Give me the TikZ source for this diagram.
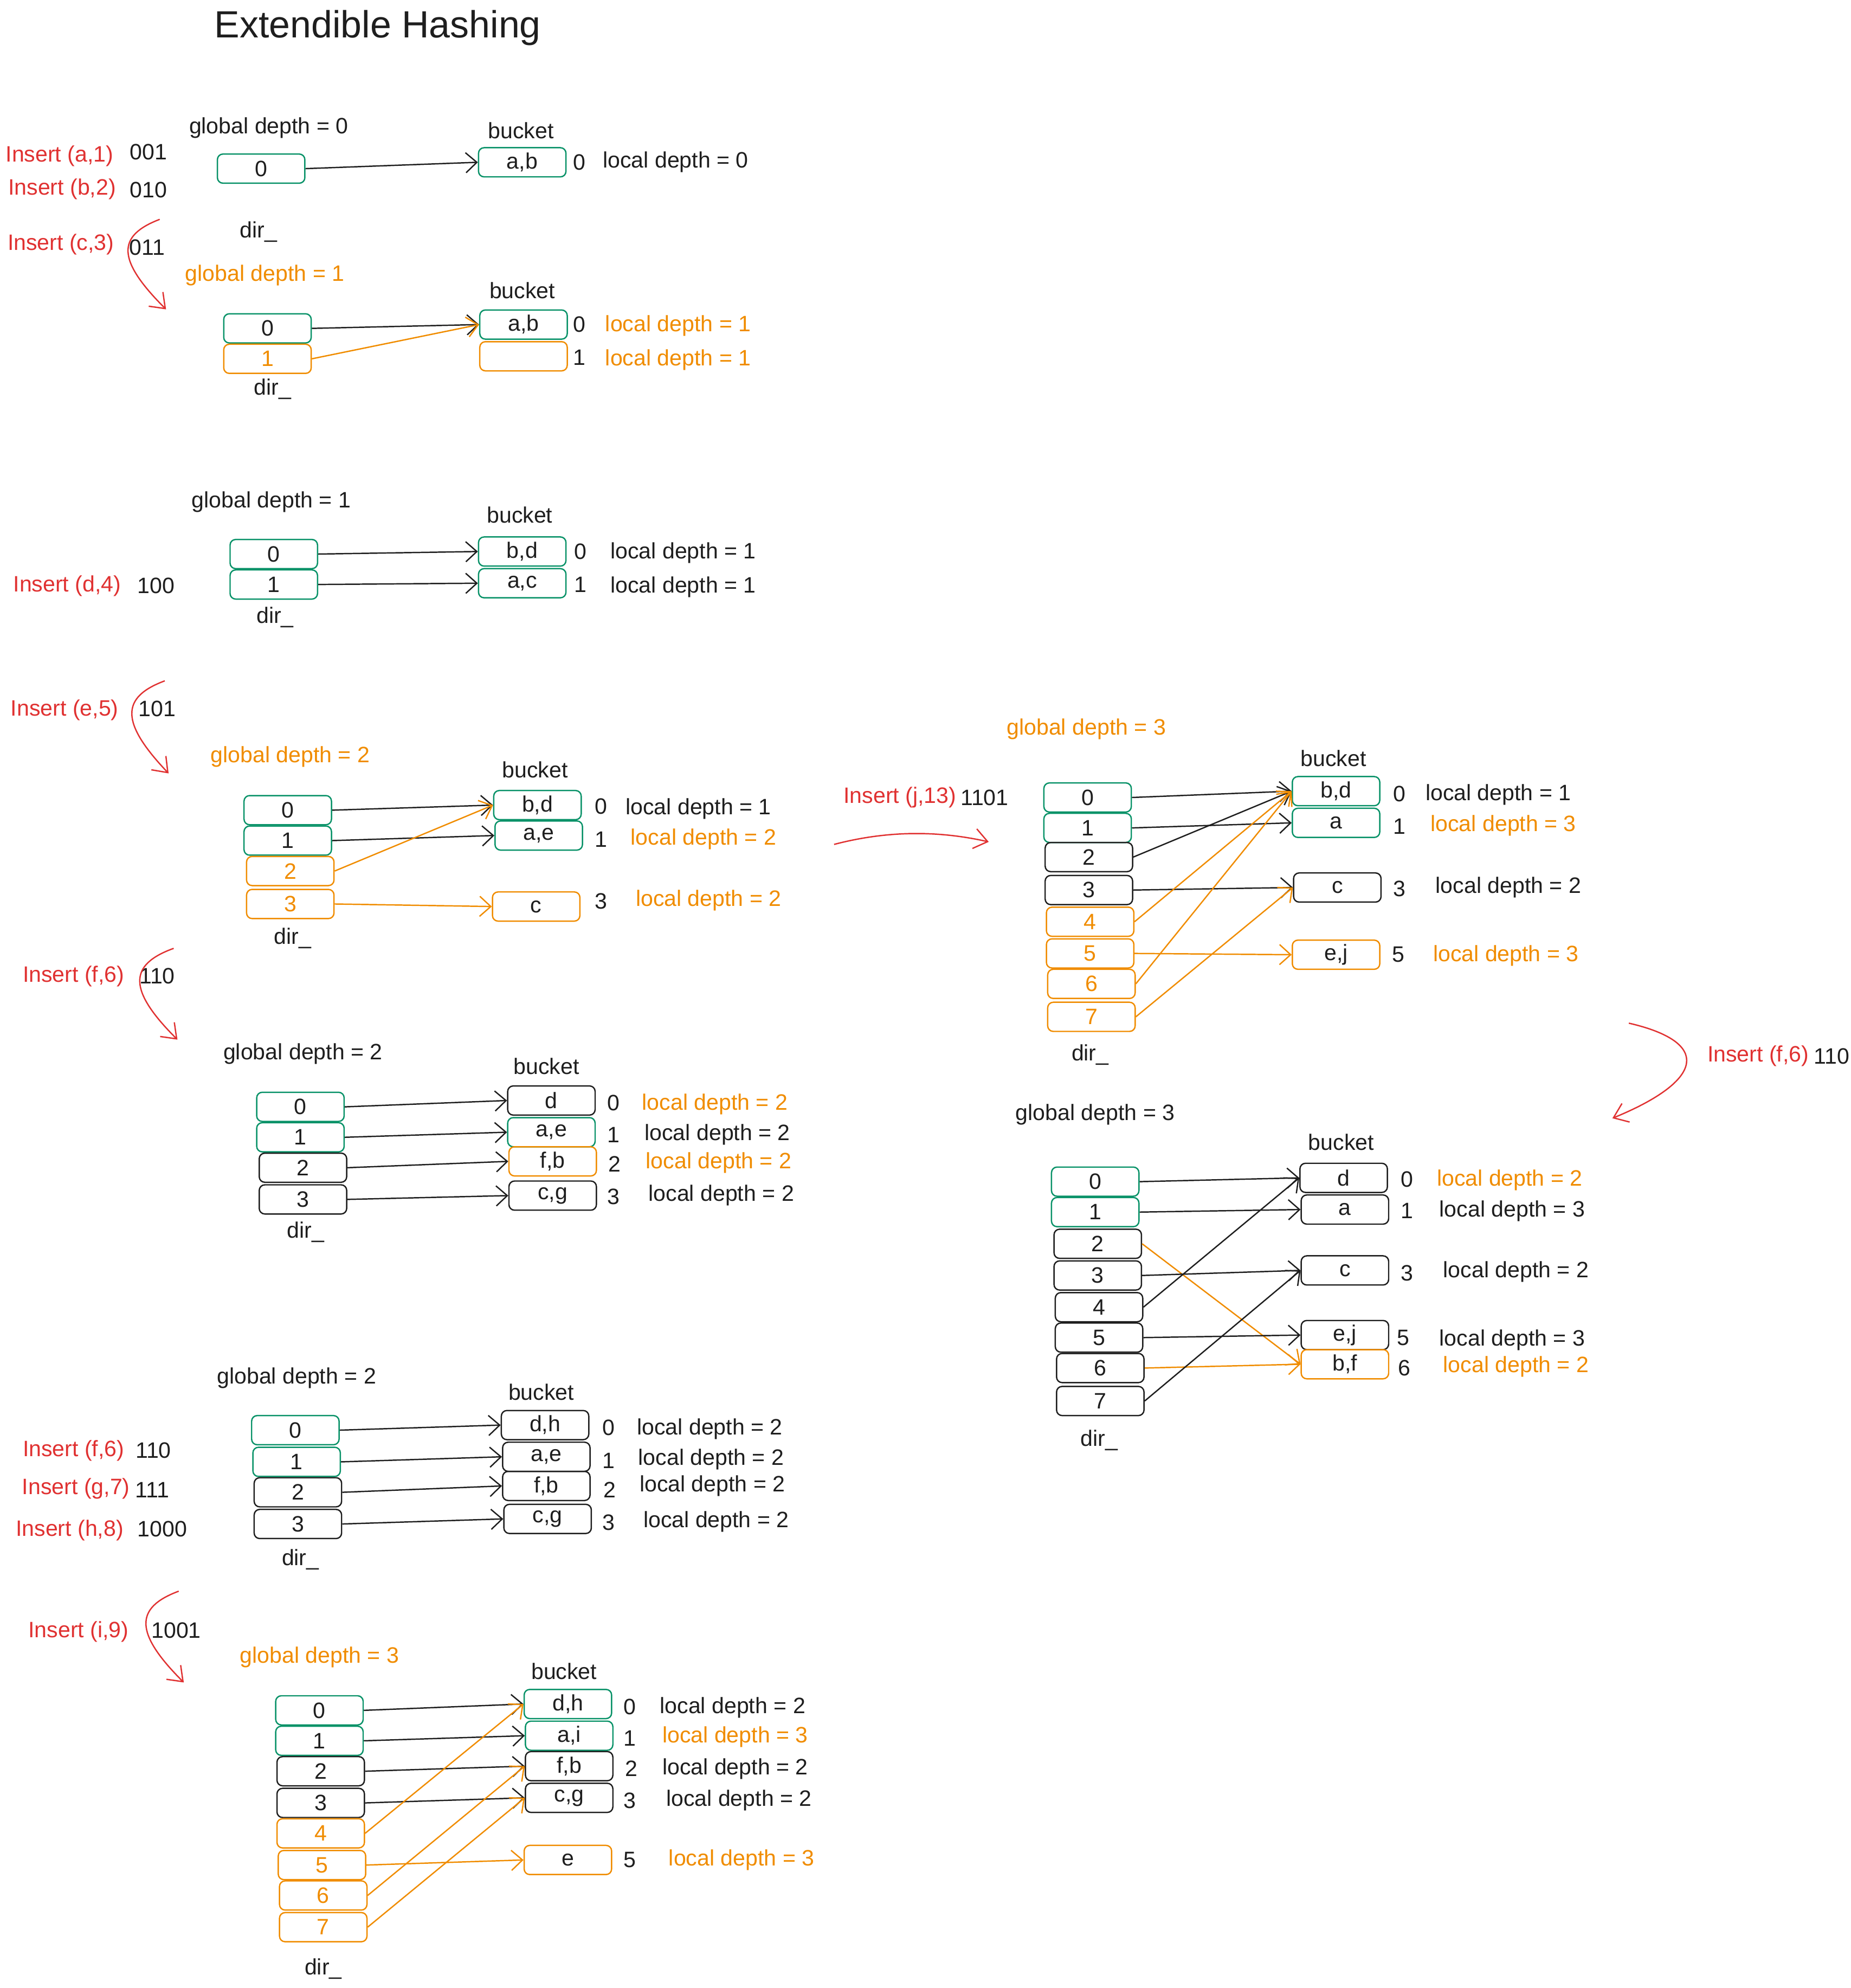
\documentclass[tikz,border=0pt]{standalone}
\usepackage{fontspec}
\setmainfont{Liberation Sans}
\usetikzlibrary{arrows.meta}
\definecolor{tealgreen}{HTML}{099268}
\definecolor{exorange}{HTML}{F08C00}
\definecolor{insred}{HTML}{E03131}
\definecolor{ink}{HTML}{1E1E1E}
\begin{document}
\begin{tikzpicture}
[x=0.02cm, y=-0.02cm, nodes={font=\fontsize{10}{12}\selectfont, text=ink},
 cell/.style={draw, rounded corners=2.5pt, minimum width=1.38cm, minimum height=0.46cm, inner sep=0pt},
 grn/.style={cell, draw=tealgreen}, org/.style={cell, draw=exorange}, blk/.style={cell, draw=ink},
 hot/.style={text=exorange}, ins/.style={text=insred},
 ptr/.style={draw=ink, -{Straight Barb[length=5pt,width=9pt]}},
 optr/.style={draw=exorange, -{Straight Barb[length=5pt,width=9pt]}},
 flow/.style={draw=insred, -{Straight Barb[length=6pt,width=9pt]}},
 line width=0.6pt]
\useasboundingbox (0,0) rectangle (1460,1568);
\node[font=\fontsize{17}{20}\selectfont] (title) at (298,22) {Extendible Hashing};

\node[ins] (i1) at (47,123) {Insert (a,1)};
\node (h1) at (117,120) {001};
\node[ins] (i2) at (49,149) {Insert (b,2)};
\node (h2) at (117,150) {010};
\node[ins] (i3) at (48,193) {Insert (c,3)};
\node (h3) at (116,195) {011};
\coordinate (c3s) at (126,173);
\coordinate (c3e) at (131,244);
\draw[flow] (c3s) .. controls (92,186) and (92,205) .. (c3e);

\node (s1g) at (212,101) {global depth = 0};
\node (s1k) at (411,103) {bucket};
\node[grn] (s1d0) at (206,133) {0};
\node (s1r) at (204,183) {dir\_};
\node[grn] (s1b0) at (412,128) {a,b};
\node (s1n0) at (457,128) {0};
\node (s1l0) at (533,128) {local depth = 0};
\draw[ptr] (s1d0.east) -- (s1b0.west);

\node[hot] (s2g) at (209,217) {global depth = 1};
\node (s2k) at (412,229) {bucket};
\node[grn] (s2d0) at (211,259) {0};
\node[org, hot] (s2d1) at (211,283) {1};
\node (s2r) at (215,307) {dir\_};
\node[grn] (s2b0) at (413,256) {a,b};
\node[org] (s2b1) at (413,281) {};
\node (s2n0) at (457,256) {0};
\node[hot] (s2l0) at (535,257) {local depth = 1};
\node (s2n1) at (457,282) {1};
\node[hot] (s2l1) at (535,284) {local depth = 1};
\draw[ptr] (s2d0.east) -- (s2b0.west);
\draw[optr] (s2d1.east) -- (s2b0.west);

\node[ins] (i4) at (53,462) {Insert (d,4)};
\node (h4) at (123,462) {100};
\node (s3g) at (214,396) {global depth = 1};
\node (s3k) at (410,406) {bucket};
\node[grn] (s3d0) at (216,437) {0};
\node[grn] (s3d1) at (216,461) {1};
\node (s3r) at (217,487) {dir\_};
\node[grn] (s3b0) at (412,435) {b,d};
\node[grn] (s3b1) at (412,460) {a,c};
\node (s3n0) at (458,435) {0};
\node (s3l0) at (539,436) {local depth = 1};
\node (s3n1) at (458,461) {1};
\node (s3l1) at (539,463) {local depth = 1};
\draw[ptr] (s3d0.east) -- (s3b0.west);
\draw[ptr] (s3d1.east) -- (s3b1.west);

\node[ins] (i5) at (51,560) {Insert (e,5)};
\node (h5) at (124,559) {101};
\coordinate (c5s) at (130,537);
\coordinate (c5e) at (133,610);
\draw[flow] (c5s) .. controls (95,550) and (95,570) .. (c5e);
\node[hot] (s4g) at (229,597) {global depth = 2};
\node (s4k) at (422,607) {bucket};
\node[grn] (s4d0) at (227,639) {0};
\node[grn] (s4d1) at (227,663) {1};
\node[org, hot] (s4d2) at (229,687) {2};
\node[org, hot] (s4d3) at (229,713) {3};
\node (s4r) at (231,740) {dir\_};
\node[grn] (s4b0) at (424,635) {b,d};
\node[grn] (s4b1) at (425,659) {a,e};
\node[org] (s4b3) at (423,715) {c};
\node (s4n0) at (474,636) {0};
\node (s4l0) at (551,638) {local depth = 1};
\node (s4n1) at (474,662) {1};
\node[hot] (s4l1) at (555,662) {local depth = 2};
\node (s4n3) at (474,711) {3};
\node[hot] (s4l3) at (559,710) {local depth = 2};
\draw[ptr] (s4d0.east) -- (s4b0.west);
\draw[ptr] (s4d1.east) -- (s4b1.west);
\draw[optr] (s4d2.east) -- (s4b0.west);
\draw[optr] (s4d3.east) -- (s4b3.west);

\node[ins] (i6) at (58,770) {Insert (f,6)};
\node (h6) at (124,770) {110};
\coordinate (c6s) at (137,748);
\coordinate (c6e) at (140,820);
\draw[flow] (c6s) .. controls (101,761) and (101,781) .. (c6e);
\node (s5g) at (239,831) {global depth = 2};
\node (s5k) at (431,841) {bucket};
\node[grn] (s5d0) at (237,873) {0};
\node[grn] (s5d1) at (237,897) {1};
\node[blk] (s5d2) at (239,921) {2};
\node[blk] (s5d3) at (239,946) {3};
\node (s5r) at (241,972) {dir\_};
\node[blk] (s5b0) at (435,868) {d};
\node[grn] (s5b1) at (435,893) {a,e};
\node[org] (s5b2) at (436,916) {f,b};
\node[blk] (s5b3) at (436,943) {c,g};
\node (s5n0) at (484,870) {0};
\node[hot] (s5l0) at (564,871) {local depth = 2};
\node (s5n1) at (484,895) {1};
\node (s5l1) at (566,895) {local depth = 2};
\node (s5n2) at (485,918) {2};
\node[hot] (s5l2) at (567,917) {local depth = 2};
\node (s5n3) at (484,944) {3};
\node (s5l3) at (569,943) {local depth = 2};
\draw[ptr] (s5d0.east) -- (s5b0.west);
\draw[ptr] (s5d1.east) -- (s5b1.west);
\draw[ptr] (s5d2.east) -- (s5b2.west);
\draw[ptr] (s5d3.east) -- (s5b3.west);

\node[ins] (i7) at (58,1144) {Insert (f,6)};
\node (h7) at (121,1144) {110};
\node[ins] (i8) at (60,1174) {Insert (g,7)};
\node (h8) at (120,1175) {111};
\node[ins] (i9) at (55,1207) {Insert (h,8)};
\node (h9) at (128,1206) {1000};
\node (s6g) at (234,1087) {global depth = 2};
\node (s6k) at (427,1098) {bucket};
\node[grn] (s6d0) at (233,1128) {0};
\node[grn] (s6d1) at (234,1153) {1};
\node[blk] (s6d2) at (235,1177) {2};
\node[blk] (s6d3) at (235,1202) {3};
\node (s6r) at (237,1230) {dir\_};
\node[blk] (s6b0) at (430,1124) {d,h};
\node[blk] (s6b1) at (431,1149) {a,e};
\node[blk] (s6b2) at (431,1172) {f,b};
\node[blk] (s6b3) at (432,1198) {c,g};
\node (s6n0) at (480,1126) {0};
\node (s6l0) at (560,1127) {local depth = 2};
\node (s6n1) at (480,1152) {1};
\node (s6l1) at (561,1151) {local depth = 2};
\node (s6n2) at (481,1175) {2};
\node (s6l2) at (562,1172) {local depth = 2};
\node (s6n3) at (480,1201) {3};
\node (s6l3) at (565,1200) {local depth = 2};
\draw[ptr] (s6d0.east) -- (s6b0.west);
\draw[ptr] (s6d1.east) -- (s6b1.west);
\draw[ptr] (s6d2.east) -- (s6b2.west);
\draw[ptr] (s6d3.east) -- (s6b3.west);

\node[ins] (i10) at (62,1287) {Insert (i,9)};
\node (h10) at (139,1286) {1001};
\coordinate (c10s) at (141,1255);
\coordinate (c10e) at (145,1327);
\draw[flow] (c10s) .. controls (106,1268) and (106,1288) .. (c10e);
\node[hot] (s7g) at (252,1307) {global depth = 3};
\node (s7k) at (445,1318) {bucket};
\node[grn] (s7d0) at (252,1349) {0};
\node[grn] (s7d1) at (252,1373) {1};
\node[blk] (s7d2) at (253,1397) {2};
\node[blk] (s7d3) at (253,1422) {3};
\node[org, hot] (s7d4) at (253,1446) {4};
\node[org, hot] (s7d5) at (254,1471) {5};
\node[org, hot] (s7d6) at (255,1495) {6};
\node[org, hot] (s7d7) at (255,1520) {7};
\node (s7r) at (255,1553) {dir\_};
\node[grn] (s7b0) at (448,1344) {d,h};
\node[grn] (s7b1) at (449,1369) {a,i};
\node[blk] (s7b2) at (449,1393) {f,b};
\node[blk] (s7b3) at (449,1418) {c,g};
\node[org] (s7b5) at (448,1467) {e};
\node (s7n0) at (497,1346) {0};
\node (s7l0) at (578,1347) {local depth = 2};
\node (s7n1) at (497,1371) {1};
\node[hot] (s7l1) at (580,1370) {local depth = 3};
\node (s7n2) at (498,1395) {2};
\node (s7l2) at (580,1395) {local depth = 2};
\node (s7n3) at (497,1420) {3};
\node (s7l3) at (583,1420) {local depth = 2};
\node (s7n5) at (497,1467) {5};
\node[hot] (s7l5) at (585,1467) {local depth = 3};
\draw[ptr] (s7d0.east) -- (s7b0.west);
\draw[ptr] (s7d1.east) -- (s7b1.west);
\draw[ptr] (s7d2.east) -- (s7b2.west);
\draw[ptr] (s7d3.east) -- (s7b3.west);
\draw[optr] (s7d4.east) -- (s7b0.west);
\draw[optr] (s7d5.east) -- (s7b5.west);
\draw[optr] (s7d6.east) -- (s7b2.west);
\draw[optr] (s7d7.east) -- (s7b3.west);

\node[ins] (i11) at (710,629) {Insert (j,13)};
\node[anchor=west, inner sep=0pt] (h11) at ([xshift=-2pt]i11.east) {1101};
\coordinate (c11s) at (658,666);
\coordinate (c11e) at (780,664);
\draw[flow] (c11s) .. controls (700,655) and (740,655) .. (c11e);
\node[hot] (s8g) at (857,575) {global depth = 3};
\node (s8k) at (1052,598) {bucket};
\node[grn] (s8d0) at (858,629) {0};
\node[grn] (s8d1) at (858,653) {1};
\node[blk] (s8d2) at (859,676) {2};
\node[blk] (s8d3) at (859,702) {3};
\node[org, hot] (s8d4) at (860,727) {4};
\node[org, hot] (s8d5) at (860,752) {5};
\node[org, hot] (s8d6) at (861,776) {6};
\node[org, hot] (s8d7) at (861,802) {7};
\node (s8r) at (860,832) {dir\_};
\node[grn] (s8b0) at (1054,624) {b,d};
\node[grn] (s8b1) at (1054,649) {a};
\node[blk] (s8b3) at (1055,700) {c};
\node[org] (s8b5) at (1054,753) {e,j};
\node (s8n0) at (1104,626) {0};
\node (s8l0) at (1182,627) {local depth = 1};
\node (s8n1) at (1104,652) {1};
\node[hot] (s8l1) at (1186,651) {local depth = 3};
\node (s8n3) at (1104,701) {3};
\node (s8l3) at (1190,700) {local depth = 2};
\node (s8n5) at (1103,753) {5};
\node[hot] (s8l5) at (1188,754) {local depth = 3};
\draw[ptr] (s8d0.east) -- (s8b0.west);
\draw[ptr] (s8d1.east) -- (s8b1.west);
\draw[ptr] (s8d2.east) -- (s8b0.west);
\draw[ptr] (s8d3.east) -- (s8b3.west);
\draw[optr] (s8d4.east) -- (s8b0.west);
\draw[optr] (s8d5.east) -- (s8b5.west);
\draw[optr] (s8d6.east) -- (s8b0.west);
\draw[optr] (s8d7.east) -- (s8b3.west);

\node[ins] (i12) at (1387,833) {Insert (f,6)};
\node (h12) at (1445,833) {110};
\coordinate (c12s) at (1285,807);
\coordinate (c12e) at (1272,882);
\draw[flow] (c12s) .. controls (1350,822) and (1345,852) .. (c12e);
\node (s9g) at (864,879) {global depth = 3};
\node (s9k) at (1058,901) {bucket};
\node[grn] (s9d0) at (864,932) {0};
\node[grn] (s9d1) at (864,956) {1};
\node[blk] (s9d2) at (866,981) {2};
\node[blk] (s9d3) at (866,1006) {3};
\node[blk] (s9d4) at (867,1031) {4};
\node[blk] (s9d5) at (867,1055) {5};
\node[blk] (s9d6) at (868,1079) {6};
\node[blk] (s9d7) at (868,1105) {7};
\node (s9r) at (867,1136) {dir\_};
\node[blk] (s9b0) at (1060,929) {d};
\node[blk] (s9b1) at (1061,954) {a};
\node[blk] (s9b3) at (1061,1002) {c};
\node[blk] (s9b5) at (1061,1053) {e,j};
\node[org] (s9b6) at (1061,1076) {b,f};
\node (s9n0) at (1110,930) {0};
\node[hot] (s9l0) at (1191,931) {local depth = 2};
\node (s9n1) at (1110,955) {1};
\node (s9l1) at (1193,955) {local depth = 3};
\node (s9n3) at (1110,1004) {3};
\node (s9l3) at (1196,1003) {local depth = 2};
\node (s9n5) at (1107,1055) {5};
\node (s9l5) at (1193,1057) {local depth = 3};
\node (s9n6) at (1108,1079) {6};
\node[hot] (s9l6) at (1196,1078) {local depth = 2};
\draw[ptr] (s9d0.east) -- (s9b0.west);
\draw[ptr] (s9d1.east) -- (s9b1.west);
\draw[optr] (s9d2.east) -- (s9b6.west);
\draw[ptr] (s9d3.east) -- (s9b3.west);
\draw[ptr] (s9d4.east) -- (s9b0.west);
\draw[ptr] (s9d5.east) -- (s9b5.west);
\draw[optr] (s9d6.east) -- (s9b6.west);
\draw[ptr] (s9d7.east) -- (s9b3.west);
\end{tikzpicture}
\end{document}
